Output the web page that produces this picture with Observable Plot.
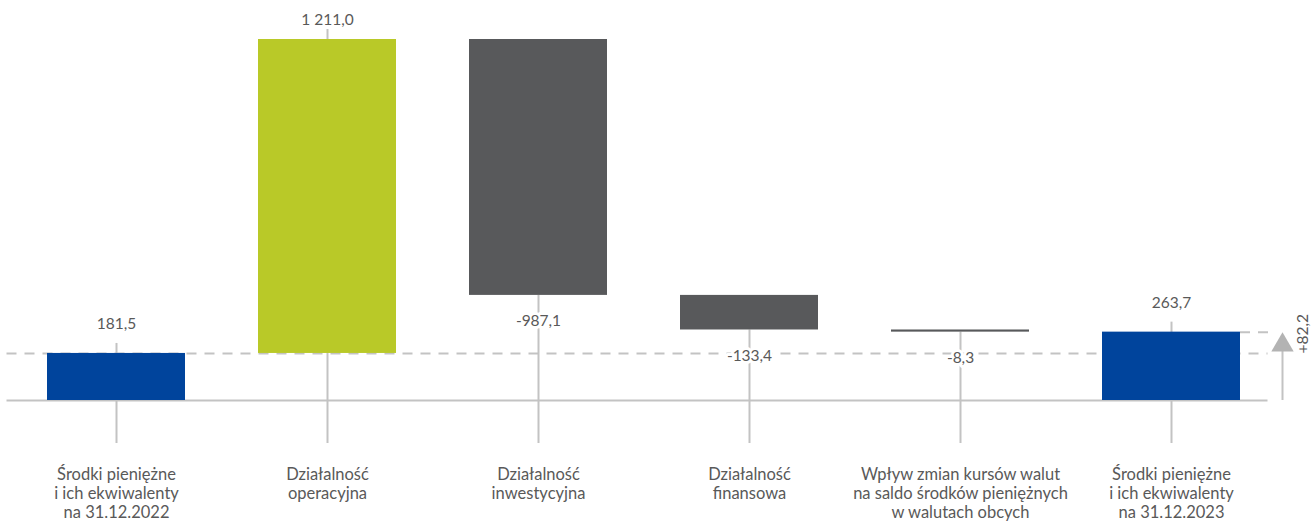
<!DOCTYPE html>
<html>
<head>
<meta charset="utf-8">
<script src="https://cdn.jsdelivr.net/npm/d3@7"></script>
<script src="https://cdn.jsdelivr.net/npm/@observablehq/plot@0.6"></script>
<style>
  html, body { margin: 0; padding: 0; background: #ffffff; }
  #chart svg { display: block; }
</style>
</head>
<body>
<div id="chart"></div>
<script>
// Cash flow bridge (mln zł): opening balance, flows, closing balance
const categories = [
  "Środki pieniężne\ni ich ekwiwalenty\nna 31.12.2022",
  "Działalność\noperacyjna",
  "Działalność\ninwestycyjna",
  "Działalność\nfinansowa",
  "Wpływ zmian kursów walut\nna saldo środków pieniężnych\nw walutach obcych",
  "Środki pieniężne\ni ich ekwiwalenty\nna 31.12.2023"
];
const values = [181.5, 1211.0, -987.1, -133.4, -8.3, 263.7];
const kinds = ["total", "change", "change", "change", "change", "total"];

const BLUE = "#00449c", GREEN = "#b9c928", DARK = "#58595b";
const LINE = "#c3c3c3", TEXT = "#595959";

const pl = d3.formatLocale({decimal: ",", thousands: " ", grouping: [3], currency: ["", " zł"], minus: "-"});
const fmt = pl.format(",.1f");

// running totals -> floating bar extents
let running = 0;
const steps = categories.map((c, i) => {
  const v = values[i];
  let start, end;
  if (kinds[i] === "total") { start = 0; end = v; }
  else { start = running; end = running + v; }
  running = end;
  const color = kinds[i] === "total" ? BLUE : (v >= 0 ? GREEN : DARK);
  return {category: c, value: v, kind: kinds[i], start, end, up: end >= start, color,
          top: Math.max(start, end), bottom: Math.min(start, end)};
});

const first = steps[0], last = steps[steps.length - 1];
const change = last.end - first.end;
const totals = steps.filter(d => d.kind === "total");
const gains = steps.filter(d => d.kind === "change" && d.up);
const losses = steps.filter(d => !d.up);

const NUM = 15.5, CAT = 16.5;

const plot = Plot.plot({
  width: 1316,
  height: 525,
  marginTop: 39,
  marginBottom: 125,
  marginLeft: 9.5,
  marginRight: 39.5,
  style: {fontFamily: "Lato, 'Open Sans', sans-serif", fontSize: NUM + "px", color: TEXT, background: "#ffffff"},
  x: {domain: categories, paddingInner: 0.346, paddingOuter: 0.173, label: null},
  y: {domain: [0, d3.max(steps, d => d.top)], axis: null},
  marks: [
    // vertical guide under each step
    Plot.ruleX(steps.filter(d => d.up), {x: "category", y1: "end", y2: () => 0, stroke: LINE, strokeWidth: 2, insetTop: -10, insetBottom: -43}),
    Plot.ruleX(losses, {x: "category", y1: "end", y2: () => 0, stroke: LINE, strokeWidth: 2, insetBottom: -43}),
    // opening balance reference level
    Plot.ruleY([first.end], {stroke: LINE, strokeWidth: 2, strokeDasharray: "10,8", insetLeft: -3, insetRight: 9}),
    // baseline
    Plot.ruleY([0], {stroke: LINE, strokeWidth: 2, insetLeft: -3, insetRight: 9}),
    // closing balance level towards the change arrow
    Plot.tickY([last], {x: "category", y: "end", stroke: LINE, strokeWidth: 2, strokeDasharray: "10,8", insetLeft: 138, insetRight: -28}),
    // change arrow
    Plot.ruleX([last], {x: "category", y1: "end", y2: () => 0, dx: 111, stroke: LINE, strokeWidth: 2, insetTop: 18}),
    Plot.dot([last], {x: "category", y: "end", dx: 111, dy: 13, symbol: "triangle", r: 8.3, fill: "#b3b3b3", stroke: null}),
    Plot.text([change], {x: () => last.category, y: () => first.end, text: d => "+" + fmt(d), dx: 132, rotate: -90, textAnchor: "start", fill: TEXT, fontSize: NUM}),
    // bars
    Plot.rectY(steps, {x: "category", y1: "start", y2: "end", fill: "color"}),
    // value labels
    Plot.text(totals, {x: "category", y: "end", text: d => fmt(d.value), dy: -29, fill: TEXT, fontSize: NUM, stroke: "white", strokeWidth: 6, paintOrder: "stroke"}),
    Plot.text(gains, {x: "category", y: "end", text: d => fmt(d.value), dy: -19, fill: TEXT, fontSize: NUM, stroke: "white", strokeWidth: 6, paintOrder: "stroke"}),
    Plot.text(losses, {x: "category", y: "end", text: d => fmt(d.value), dy: 26, fill: TEXT, fontSize: NUM, stroke: "white", strokeWidth: 6, paintOrder: "stroke"}),
    // category labels
    Plot.axisX({tickSize: 0, tickPadding: 66, lineAnchor: "top", lineHeight: 1.15, fill: TEXT, fontSize: CAT, label: null})
  ]
});

document.getElementById("chart").appendChild(plot);
</script>
</body>
</html>
